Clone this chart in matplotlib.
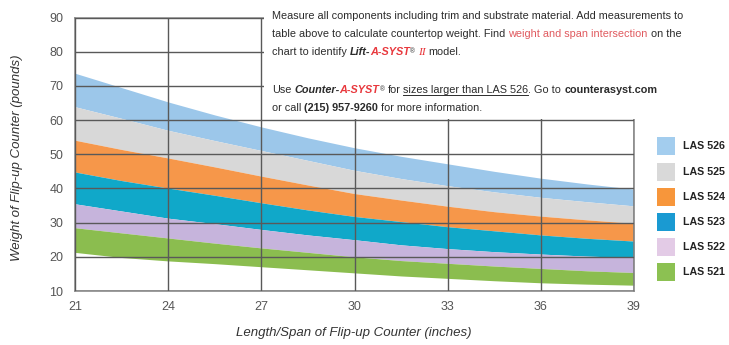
import matplotlib.pyplot as plt
from matplotlib import font_manager
from matplotlib.patches import Rectangle
from matplotlib.lines import Line2D

plt.rcParams['font.family'] = ['Liberation Sans', 'DejaVu Sans']

# span of the flip-up counter (inches)
spans = [21, 22.5, 24, 25.5, 27, 28.5, 30, 31.5, 33, 34.5, 36, 37.5, 39]
x_ticks = [21, 24, 27, 30, 33, 36, 39]

# band edges, weight in pounds from top to bottom
edge_526_top = [73.7, 69.5, 65.3, 61.5, 58.0, 54.8, 51.9, 49.4, 47.2, 45.0, 43.0, 41.3, 39.8]
edge_526_525 = [63.9, 60.5, 57.0, 54.0, 51.1, 48.2, 45.3, 42.9, 40.8, 39.0, 37.4, 36.1, 34.9]
edge_525_524 = [54.1, 51.4, 48.9, 46.3, 43.6, 41.0, 38.5, 36.6, 34.8, 33.2, 31.9, 30.8, 29.8]
edge_524_523 = [44.8, 42.3, 40.1, 38.0, 35.8, 33.7, 31.8, 30.3, 28.8, 27.6, 26.4, 25.4, 24.6]
edge_523_522 = [35.5, 33.4, 31.3, 29.7, 28.0, 26.4, 25.0, 23.5, 22.4, 21.5, 20.8, 20.2, 19.8]
edge_522_521 = [28.5, 27.0, 25.5, 24.0, 22.6, 21.3, 20.0, 18.9, 18.1, 17.3, 16.6, 15.9, 15.4]
edge_521_bottom = [21.3, 19.8, 18.8, 18.0, 17.1, 16.2, 15.3, 14.4, 13.7, 13.0, 12.4, 12.0, 11.7]

models = ['LAS 526', 'LAS 525', 'LAS 524', 'LAS 523', 'LAS 522', 'LAS 521']
band_colors = ['#9cc7ea', '#d8d8d8', '#f6974a', '#10a8c9', '#c6b4dc', '#8bbd4f']
key_colors = ['#a3cdee', '#d9d9d9', '#f7963b', '#1a9ad2', '#e3cbe6', '#8cc152']

y_ticks = [10, 20, 30, 40, 50, 60, 70, 80, 90]

edges = [edge_526_top, edge_526_525, edge_525_524, edge_524_523,
         edge_523_522, edge_522_521, edge_521_bottom]

installed = {f.name for f in font_manager.fontManager.ttflist}
narrow = 'Liberation Sans Narrow' in installed

W, H = 729, 345
fig = plt.figure(figsize=(W / 100, H / 100), dpi=100)
ax = fig.add_axes([75 / W, 1 - 291 / H, (634 - 75) / W, (291 - 17.5) / H])

for i, color in enumerate(band_colors):
    ax.fill_between(spans, edges[i + 1], edges[i], color=color, lw=0, zorder=1)

ax.set_xlim(21, 39)
ax.set_ylim(10, 90)
ax.set_xticks(x_ticks)
ax.set_yticks(y_ticks)
ax.grid(True, color='#595959', lw=1.0, zorder=2)
ax.set_axisbelow(False)
for s in ax.spines.values():
    s.set_color('#8a8a8a')
    s.set_linewidth(1.2)
ax.tick_params(axis='both', length=0, labelsize=9, labelcolor='#555555')
ax.tick_params(axis='y', pad=8.5)
ax.tick_params(axis='x', pad=7)

fig.text(354 / W, 1 - 333 / H, 'Length/Span of Flip-up Counter (inches)',
         ha='center', va='center', style='italic', fontsize=9.5, color='#333333')
fig.text(17 / W, 1 - 158 / H, 'Weight of Flip-up Counter (pounds)',
         ha='center', va='center', rotation=90, style='italic', fontsize=9.5,
         color='#333333')

# white note box over the top right of the grid
fig.add_artist(Rectangle((264 / W, 1 - 118.5 / H), (705 - 264) / W, 118.5 / H,
                         transform=fig.transFigure, fc='white', ec='none', zorder=3))

renderer = fig.canvas.get_renderer()
dark = '#2b2b2b'
soft_red = '#e05a5f'
brand_red = '#e8383d'
note_font = ['Liberation Sans Narrow', 'Liberation Sans'] if narrow else ['Liberation Sans']


def text_width(s, props):
    t = fig.text(0, 0, s, **props)
    w = t.get_window_extent(renderer).width
    t.remove()
    return w


line1 = 'Measure all components including trim and substrate material. Add measurements to'
note_size = 8.6 * 408 / text_width(line1, dict(family=note_font, fontsize=8.6))


def draw_runs(x, base, runs):
    for s, extra in runs:
        props = dict(family=note_font, fontsize=note_size, color=dark)
        props.update(extra)
        dy = props.pop('dy', 0)
        under = props.pop('underline', False)
        lead = len(s) - len(s.lstrip(' '))
        trail = len(s) - len(s.rstrip(' '))
        core = s.strip(' ')
        sp = text_width('a a', props) - text_width('aa', props)
        x += lead * sp
        if core:
            t = fig.text(x / W, 1 - (base - dy) / H, core, ha='left', va='baseline',
                         zorder=4, **props)
            w = t.get_window_extent(renderer).width
            if under:
                fig.add_artist(Line2D([x / W, (x + w) / W],
                                      [1 - (base + 1.8) / H, 1 - (base + 1.8) / H],
                                      transform=fig.transFigure, color=dark,
                                      lw=0.7, zorder=4))
            x += w
        x += trail * sp


bi = dict(weight='bold', style='italic')
reg = dict(fontsize=note_size * 0.6, dy=2)
draw_runs(272, 19, [(line1, {})])
draw_runs(272, 37, [('table above to calculate countertop weight. Find ', {}),
                    ('weight and span intersection', dict(color=soft_red)),
                    (' on the', {})])
draw_runs(272, 55, [('chart to identify ', {}),
                    ('Lift-', bi),
                    ('A-SYST', dict(color=brand_red, **bi)),
                    ('®', reg),
                    (' II', dict(family=['Liberation Serif'], style='italic',
                                 color=brand_red, fontsize=note_size * 1.05)),
                    (' model.', {})])
draw_runs(272, 93, [('Use ', {}),
                    ('Counter-', bi),
                    ('A-SYST', dict(color=brand_red, **bi)),
                    ('®', reg),
                    (' for ', {}),
                    ('sizes larger than LAS 526', dict(underline=True)),
                    ('. Go to ', {}),
                    ('counterasyst.com', dict(weight='bold'))])
draw_runs(272, 111, [('or call ', {}),
                     ('(215) 957-9260', dict(weight='bold')),
                     (' for more information.', {})])

# key on the right
key_font = note_font
key_size = 9.5 * 42 / text_width('LAS 526', dict(family=key_font, fontsize=9.5,
                                                  weight='bold'))
key_centers = [146, 172, 197, 222, 247, 272]
for name, color, cy in zip(models, key_colors, key_centers):
    fig.add_artist(Rectangle((657 / W, 1 - (cy + 9) / H), 18 / W, 18 / H,
                             transform=fig.transFigure, fc=color, ec='none'))
    fig.text(683 / W, 1 - cy / H, name, ha='left', va='center', fontsize=key_size,
             weight='bold', family=key_font, color='#222222')

fig.savefig('out.png', dpi=100)
